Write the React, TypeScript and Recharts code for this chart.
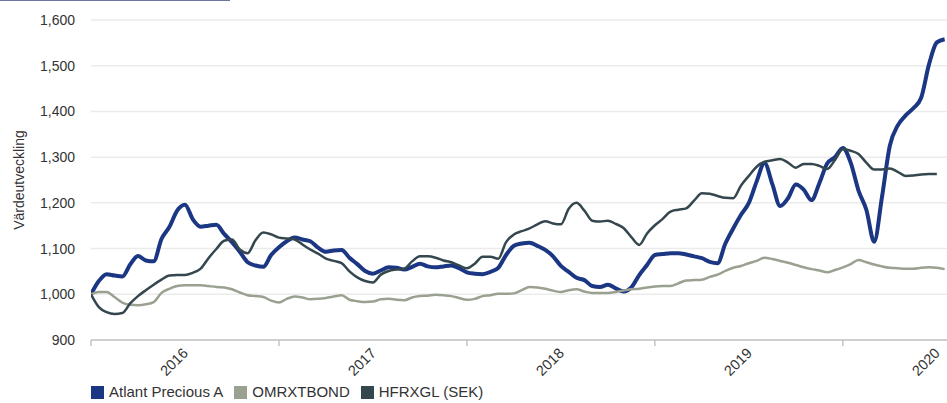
import { LineChart, Line, XAxis, YAxis, CartesianGrid } from "recharts";

// half-monthly observations, Jan 2016 - Jul 2020
const dates = [
  "2016-01-01", "2016-01-16", "2016-02-01", "2016-02-16", "2016-03-01", "2016-03-16", "2016-04-01", "2016-04-16",
  "2016-05-01", "2016-05-16", "2016-06-01", "2016-06-16", "2016-07-01", "2016-07-16", "2016-08-01", "2016-08-16",
  "2016-09-01", "2016-09-16", "2016-10-01", "2016-10-16", "2016-11-01", "2016-11-16", "2016-12-01", "2016-12-16",
  "2017-01-01", "2017-01-16", "2017-02-01", "2017-02-16", "2017-03-01", "2017-03-16", "2017-04-01", "2017-04-16",
  "2017-05-01", "2017-05-16", "2017-06-01", "2017-06-16", "2017-07-01", "2017-07-16", "2017-08-01", "2017-08-16",
  "2017-09-01", "2017-09-16", "2017-10-01", "2017-10-16", "2017-11-01", "2017-11-16", "2017-12-01", "2017-12-16",
  "2018-01-01", "2018-01-16", "2018-02-01", "2018-02-16", "2018-03-01", "2018-03-16", "2018-04-01", "2018-04-16",
  "2018-05-01", "2018-05-16", "2018-06-01", "2018-06-16", "2018-07-01", "2018-07-16", "2018-08-01", "2018-08-16",
  "2018-09-01", "2018-09-16", "2018-10-01", "2018-10-16", "2018-11-01", "2018-11-16", "2018-12-01", "2018-12-16",
  "2019-01-01", "2019-01-16", "2019-02-01", "2019-02-16", "2019-03-01", "2019-03-16", "2019-04-01", "2019-04-16",
  "2019-05-01", "2019-05-16", "2019-06-01", "2019-06-16", "2019-07-01", "2019-07-16", "2019-08-01", "2019-08-16",
  "2019-09-01", "2019-09-16", "2019-10-01", "2019-10-16", "2019-11-01", "2019-11-16", "2019-12-01", "2019-12-16",
  "2020-01-01", "2020-01-16", "2020-02-01", "2020-02-16", "2020-03-01", "2020-03-16", "2020-04-01", "2020-04-16",
  "2020-05-01", "2020-05-16", "2020-06-01", "2020-06-16", "2020-07-01", "2020-07-16",
];

const atlant = [
  1000, 1029, 1044, 1041, 1039, 1065, 1084, 1074, 1072, 1121,
  1147, 1183, 1196, 1164, 1148, 1150, 1152, 1132, 1114, 1093,
  1070, 1063, 1060, 1086, 1103, 1116, 1124, 1120, 1116, 1102,
  1093, 1096, 1097, 1080, 1066, 1051, 1045, 1052, 1059, 1058,
  1054, 1060, 1067, 1061, 1059, 1061, 1063, 1057, 1048, 1045,
  1044, 1049, 1058, 1086, 1106, 1111, 1113, 1106, 1097, 1083,
  1062, 1049, 1036, 1031, 1018, 1016, 1021, 1013, 1006, 1015,
  1042, 1064, 1086, 1088, 1090, 1090, 1087, 1083, 1079, 1071,
  1068, 1111, 1144, 1174, 1200, 1247, 1287, 1241, 1193, 1210,
  1240, 1229, 1206, 1243, 1286, 1300, 1320, 1288, 1227, 1185,
  1115, 1213, 1325, 1369, 1391, 1407, 1430, 1503, 1551, 1558,
];

const omrx = [
  1000, 1005, 1005, 994, 982, 977, 976, 978, 983, 1003,
  1012, 1018, 1020, 1020, 1020, 1018, 1016, 1015, 1011, 1004,
  998, 996, 994, 986, 982, 990, 995, 993, 989, 990,
  992, 995, 998, 988, 985, 983, 984, 989, 990, 988,
  987, 993, 996, 997, 999, 998, 996, 992, 988, 990,
  996, 998, 1001, 1001, 1002, 1009, 1016, 1015, 1012, 1008,
  1005, 1009, 1011, 1006, 1003, 1003, 1003, 1005, 1008, 1011,
  1012, 1015, 1017, 1018, 1018, 1024, 1030, 1031, 1032, 1038,
  1043, 1051, 1058, 1062, 1068, 1073, 1080, 1077, 1073, 1069,
  1064, 1059, 1055, 1052, 1048, 1053, 1059, 1066, 1075, 1070,
  1065, 1061, 1058, 1057, 1056, 1056, 1058, 1059, 1058, 1055,
];

const hfrx = [
  1000, 972, 961, 957, 959, 980, 996, 1009, 1021, 1032,
  1041, 1042, 1042, 1047, 1056, 1079, 1099, 1117, 1120, 1098,
  1090, 1118, 1135, 1131, 1124, 1122, 1120, 1109, 1098, 1089,
  1078, 1073, 1068, 1050, 1037, 1029, 1026, 1043, 1051, 1054,
  1056, 1072, 1083, 1083, 1080, 1074, 1070, 1063, 1057, 1067,
  1082, 1082, 1078, 1114, 1131, 1138, 1144, 1153, 1160, 1155,
  1153, 1187, 1200, 1183, 1161, 1159, 1161, 1154, 1145, 1125,
  1108, 1133, 1151, 1165, 1181, 1185, 1188, 1205, 1221, 1220,
  1215, 1211, 1210, 1238, 1259, 1279, 1290, 1293, 1296, 1288,
  1277, 1285, 1285, 1281, 1274, 1294, 1317, 1314, 1307, 1288,
  1273, 1273, 1275, 1268, 1259, 1260, 1262, 1263, 1263,
];

const yearLabels = ["2016", "2017", "2018", "2019", "2020"];
const yTicks = [900, 1000, 1100, 1200, 1300, 1400, 1500, 1600];

const series = [
  { key: "atlant", name: "Atlant Precious A", color: "#1b3683", width: 4 },
  { key: "omrx", name: "OMRXTBOND", color: "#9aa191", width: 2.5 },
  { key: "hfrx", name: "HFRXGL (SEK)", color: "#34474f", width: 2.5 },
];

const rows = dates.map((d, i) => ({
  k: i,
  date: d,
  atlant: atlant[i] ?? null,
  omrx: omrx[i] ?? null,
  hfrx: hfrx[i] ?? null,
}));

const yearStarts = yearLabels.map((y) => dates.indexOf(`${y}-01-01`));
const X_DOMAIN: [number, number] = [0, dates.length - 0.7];

const CHART_W = 947;
const CHART_H = 403;
const Y_AXIS_W = 91;
// labels sit in the middle of each year, half a year right of the year tick
const HALF_YEAR_PX = ((CHART_W - Y_AXIS_W) / X_DOMAIN[1]) * 12;

const FONT = "'Liberation Sans', Arial, sans-serif";
const TEXT = "#333333";
const AXIS = "#c4c4c4";

function YearLabel({ x, y, payload }: any) {
  const label = dates[payload.value].slice(0, 4);
  const tx = x + HALF_YEAR_PX + 4;
  const ty = y + 6;
  return (
    <text
      x={tx}
      y={ty}
      transform={`rotate(-45, ${tx}, ${ty})`}
      textAnchor="end"
      fontSize={14.5}
      fontFamily={FONT}
      fill={TEXT}
    >
      {label}
    </text>
  );
}

export default function App() {
  return (
    <div style={{ position: "relative", width: CHART_W, height: CHART_H, background: "#fff", overflow: "hidden" }}>
      <style>{"body{margin:0}"}</style>
      <div style={{ position: "absolute", left: 0, top: 0, width: 230, height: 1, background: "#6b76a0" }} />
      <LineChart
        width={CHART_W}
        height={CHART_H}
        data={rows}
        margin={{ top: 20, right: 0, bottom: 17, left: 0 }}
        style={{ fontFamily: FONT }}
      >
        <CartesianGrid vertical={false} stroke="#ebebeb" strokeWidth={1.5} />
        <XAxis
          dataKey="k"
          type="number"
          domain={X_DOMAIN}
          ticks={yearStarts}
          interval={0}
          allowDataOverflow
          height={46}
          tickSize={6}
          tickMargin={2}
          tick={<YearLabel />}
          axisLine={{ stroke: AXIS, strokeWidth: 1.5 }}
          tickLine={{ stroke: AXIS, strokeWidth: 1.5 }}
        />
        <YAxis
          domain={[900, 1600]}
          ticks={yTicks}
          width={Y_AXIS_W}
          axisLine={false}
          tickLine={false}
          tickSize={6}
          tickMargin={10}
          tickFormatter={(v: number) => v.toLocaleString("en-US")}
          tick={{ fontSize: 14, fill: TEXT, fontFamily: FONT }}
          label={{
            value: "Värdeutveckling",
            angle: -90,
            position: "insideLeft",
            offset: 19,
            style: { textAnchor: "middle", fontSize: 14, fill: TEXT, fontFamily: FONT },
          }}
        />
        {series.map((s) => (
          <Line
            key={s.key}
            dataKey={s.key}
            name={s.name}
            type="monotone"
            stroke={s.color}
            strokeWidth={s.width}
            dot={false}
            activeDot={false}
            connectNulls={false}
            isAnimationActive={false}
          />
        ))}
      </LineChart>
      <div
        style={{
          position: "absolute",
          left: 91,
          top: 385,
          display: "flex",
          alignItems: "center",
          fontFamily: FONT,
          fontSize: 15,
          color: TEXT,
          lineHeight: "14px",
        }}
      >
        {series.map((s) => (
          <div key={s.key} style={{ display: "flex", alignItems: "center", marginRight: 11 }}>
            <span style={{ width: 13, height: 13, background: s.color, marginRight: 5, display: "inline-block" }} />
            <span>{s.name}</span>
          </div>
        ))}
      </div>
    </div>
  );
}
